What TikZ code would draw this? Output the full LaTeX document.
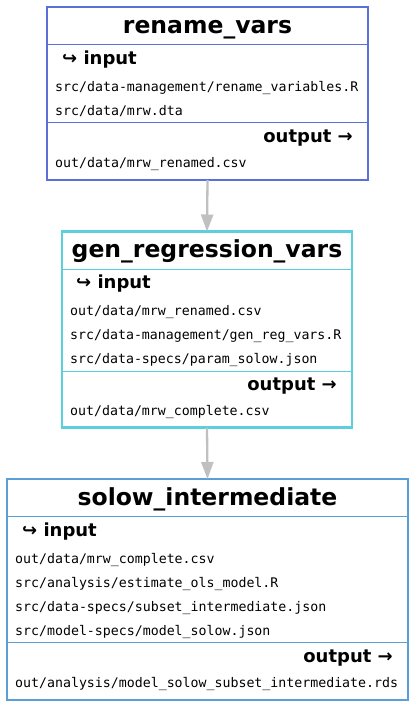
\documentclass[tikz,border=0pt]{standalone}
\usepackage{fontspec}
\setmainfont{DejaVu Sans}
\newfontfamily\hdfont{DejaVu Sans}
\newfontfamily\filefont{DejaVu Sans Mono}
\usetikzlibrary{arrows.meta}
\definecolor{cA}{HTML}{5B6FD8}
\definecolor{cB}{HTML}{5BCFDB}
\definecolor{cC}{HTML}{5A9FD5}
\definecolor{arr}{HTML}{C0C0C0}
\tikzset{
  box/.style={draw=#1, line width=2.5pt, inner sep=0pt, outer sep=0pt, fill=none},
  sepline/.style={draw=#1, line width=1pt},
  head/.style={anchor=base, inner sep=0pt, font=\hdfont\bfseries\fontsize{23.5}{26}\selectfont},
  inlab/.style={anchor=base west, inner sep=0pt, font=\hdfont\bfseries\fontsize{18}{20}\selectfont},
  outlab/.style={anchor=base east, inner sep=0pt, font=\hdfont\bfseries\fontsize{18}{20}\selectfont},
  file/.style={anchor=base west, inner sep=0pt, font=\filefont\fontsize{13.25}{15}\selectfont},
  flow/.style={draw=arr, line width=2.3pt, -{Triangle[length=17pt,width=12pt]}, shorten >=0pt}
}
\begin{document}
\begin{tikzpicture}[x=1pt,y=-1pt]
\useasboundingbox[fill=white] (0,0) rectangle (415,707);

% Box 1
\node[box=cA, minimum width=321pt, minimum height=173pt] (b1) at (207.5,93.5) {};
\draw[sepline=cA] (b1.west |- 0,44.5) -- (b1.east |- 0,44.5);
\draw[sepline=cA] (b1.west |- 0,122) -- (b1.east |- 0,122);
\node[head] (h1) at (207.5,33.5) {rename\_vars};
\node[inlab] (i1) at (62,64) {↪ input};
\node[file] (f11) at (55,91) {src/data-management/rename\_variables.R};
\node[file] (f12) at (55,115) {src/data/mrw.dta};
\node[outlab] (o1) at (353,142) {output →};
\node[file] (g11) at (55,167) {out/data/mrw\_renamed.csv};

% Box 2
\node[box=cB, minimum width=290pt, minimum height=196pt] (b2) at (207,329.5) {};
\draw[sepline=cB] (b2.west |- 0,269) -- (b2.east |- 0,269);
\draw[sepline=cB] (b2.west |- 0,371) -- (b2.east |- 0,371);
\node[head] (h2) at (207,257.5) {gen\_regression\_vars};
\node[inlab] (i2) at (76,288) {↪ input};
\node[file] (f21) at (70,315) {out/data/mrw\_renamed.csv};
\node[file] (f22) at (70,339) {src/data-management/gen\_reg\_vars.R};
\node[file] (f23) at (70,363) {src/data-specs/param\_solow.json};
\node[outlab] (o2) at (337,390) {output →};
\node[file] (g21) at (70,415) {out/data/mrw\_complete.csv};

% Box 3
\node[box=cC, minimum width=401pt, minimum height=221pt] (b3) at (207.5,589.5) {};
\draw[sepline=cC] (b3.west |- 0,516.5) -- (b3.east |- 0,516.5);
\draw[sepline=cC] (b3.west |- 0,642) -- (b3.east |- 0,642);
\node[head] (h3) at (207.5,505) {solow\_intermediate};
\node[inlab] (i3) at (22,536) {↪ input};
\node[file] (f31) at (15,563) {out/data/mrw\_complete.csv};
\node[file] (f32) at (15,587) {src/analysis/estimate\_ols\_model.R};
\node[file] (f33) at (15,611) {src/data-specs/subset\_intermediate.json};
\node[file] (f34) at (15,635) {src/model-specs/model\_solow.json};
\node[outlab] (o3) at (393,662) {output →};
\node[file] (g31) at (15,687) {out/analysis/model\_solow\_subset\_intermediate.rds};

% Connectors
\draw[flow] (b1.south) -- (b2.north);
\draw[flow] (b2.south) -- (b3.north);
\end{tikzpicture}
\end{document}
